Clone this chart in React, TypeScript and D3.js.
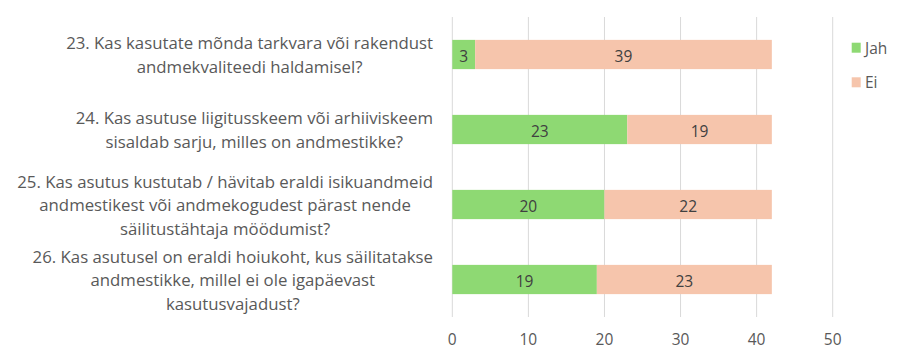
import React from "react";
import * as d3 from "d3";

const categories = [
  ["23. Kas kasutate mõnda tarkvara või rakendust", "andmekvaliteedi haldamisel?"],
  ["24. Kas asutuse liigitusskeem või arhiiviskeem", "sisaldab sarju, milles on andmestikke?"],
  ["25. Kas asutus kustutab / hävitab eraldi isikuandmeid", "andmestikest või andmekogudest pärast nende", "säilitustähtaja möödumist?"],
  ["26. Kas asutusel on eraldi hoiukoht, kus säilitatakse", "andmestikke, millel ei ole igapäevast", "kasutusvajadust?"],
];
const jah = [3, 23, 20, 19];
const ei = [39, 19, 22, 23];
const ticks = [0, 10, 20, 30, 40, 50];
const seriesNames = ["Jah", "Ei"];
const colors = ["#8ED973", "#F6C5AC"];

const W = 907, H = 355;
const FONT = "'Open Sans', sans-serif";
const LABEL_SIZE = 16.8;

function measure(text: string, size: number) {
  const c = document.createElement("canvas").getContext("2d")!;
  c.font = `${size}px 'Open Sans'`;
  return c.measureText(text).width;
}

export default function App() {
  const x = d3.scaleLinear().domain([0, 50]).range([452.3, 832.7]);
  const y = d3.scaleBand<number>().domain(d3.range(categories.length)).range([17, 317]).paddingInner(0.61).paddingOuter(0.305);
  const stack = categories.map((_, i) => [
    { s: 0, x0: 0, x1: jah[i], v: jah[i] },
    { s: 1, x0: jah[i], x1: jah[i] + ei[i], v: ei[i] },
  ]);
  const labelRight = 433;
  const lineH = 23.5;
  return (
    <svg width={W} height={H} style={{ display: "block", position: "absolute", left: 0, top: 0 }} fontFamily={FONT}>
      <rect width={W} height={H} fill="#fff" />
      {ticks.map((t) => (
        <line key={t} x1={x(t)} x2={x(t)} y1={17} y2={317} stroke="#D9D9D9" strokeWidth={1} />
      ))}
      {ticks.map((t) => (
        <text key={"t" + t} x={x(t)} y={339} textAnchor="middle" dominantBaseline="central" fontSize={15.5} fill="#595959">{t}</text>
      ))}
      {stack.map((segs, i) =>
        segs.map((s) => (
          <g key={i + "-" + s.s}>
            <rect x={x(s.x0)} y={y(i)!} width={x(s.x1) - x(s.x0)} height={y.bandwidth()} fill={colors[s.s]} />
            <text x={(x(s.x0) + x(s.x1)) / 2} y={y(i)! + y.bandwidth() / 2 + 1} textAnchor="middle" dominantBaseline="central" fontSize={15.5} fill="#404040">{s.v}</text>
          </g>
        ))
      )}
      {categories.map((lines, i) => {
        const maxW = Math.max(...lines.map((l) => measure(l, LABEL_SIZE)));
        const cx = labelRight - maxW / 2;
        const cy = y(i)! + y.bandwidth() / 2;
        const start = cy - ((lines.length - 1) * lineH) / 2;
        return lines.map((l, j) => (
          <text key={i + "-" + j} x={cx} y={start + j * lineH} textAnchor="middle" dominantBaseline="central" fontSize={LABEL_SIZE} fill="#595959">{l}</text>
        ));
      })}
      {seriesNames.map((n, i) => (
        <g key={n}>
          <rect x={851.7} y={42.7 + i * 34.6} width={9} height={10} fill={colors[i]} />
          <text x={865} y={47.7 + i * 34.6} dominantBaseline="central" fontSize={15.5} fill="#595959">{n}</text>
        </g>
      ))}
    </svg>
  );
}
